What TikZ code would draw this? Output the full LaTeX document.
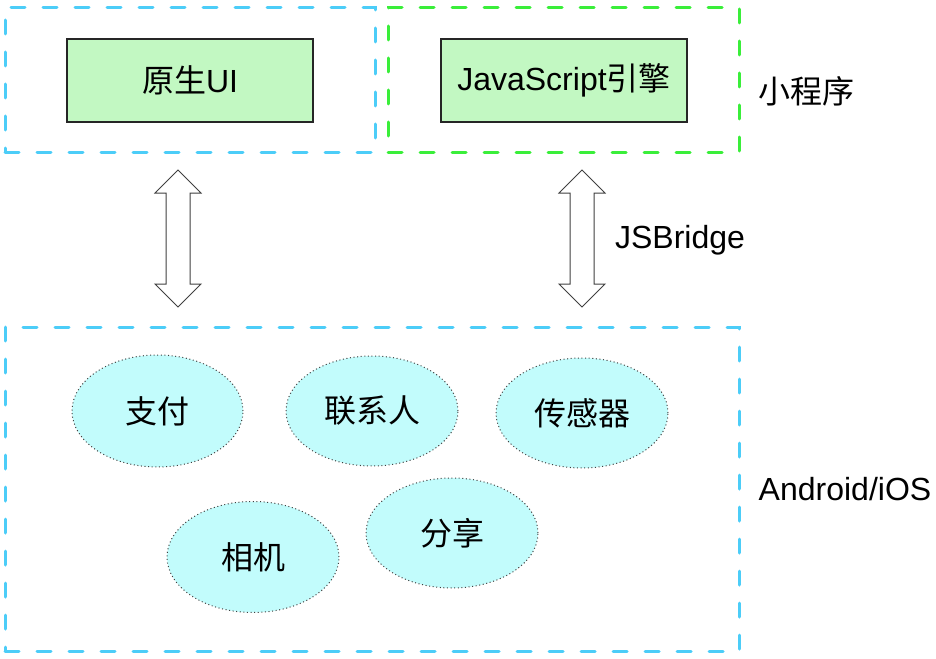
\documentclass[tikz,border=0pt]{standalone}
\usepackage{fontspec}
\setmainfont{Liberation Sans}
\newfontfamily\cjk{Noto Sans CJK SC}
\usetikzlibrary{shapes.geometric,calc}
\definecolor{dashblue}{RGB}{76,205,248}
\definecolor{dashgreen}{RGB}{58,238,58}
\definecolor{boxgreen}{RGB}{194,248,194}
\definecolor{ellcyan}{RGB}{194,252,252}
\tikzset{
  bigfont/.style={font=\fontsize{32}{38}\selectfont},
  dashframe/.style={draw=#1, line width=3pt, dash pattern=on 14pt off 18pt, line cap=round, rectangle, inner sep=0pt},
  greenbox/.style={draw=black!85, line width=1.4pt, fill=boxgreen, rectangle, minimum width=246pt, minimum height=83pt, inner sep=0pt, bigfont},
  ell/.style={ellipse, draw=black!75, line width=1pt, dash pattern=on 1pt off 2.6pt, fill=ellcyan, inner sep=0pt, minimum width=172pt, minimum height=111pt, bigfont},
  blockarrow/.style={draw=black!75, line width=1pt, fill=white},
  label/.style={bigfont, inner sep=0pt}
}
\newcommand\dblarrow[2]{%
  \draw[blockarrow] (#1) -- ($(#1)+(23,23)$) -- ($(#1)+(12,23)$) -- ($(#2)+(12,-23)$) -- ($(#2)+(23,-23)$) -- (#2)
   -- ($(#2)+(-23,-23)$) -- ($(#2)+(-12,-23)$) -- ($(#1)+(-12,23)$) -- ($(#1)+(-23,23)$) -- cycle;}
\begin{document}
\begin{tikzpicture}[x=1pt,y=-1pt]
\useasboundingbox (0,0) rectangle (936,658);
% frames
\node[dashframe=dashblue, minimum width=370pt, minimum height=144pt] (nativeframe) at (190,80) {};
\node[dashframe=dashgreen, minimum width=351pt, minimum height=144pt] (jsframe) at (563.5,80) {};
\node[dashframe=dashblue, minimum width=734pt, minimum height=324pt] (osframe) at (372,489) {};
% top boxes
\node[greenbox] (native) at (190,80.5) {{\cjk 原生}UI};
\node[greenbox] (jsengine) at (564,80.5) {JavaScript{\cjk 引擎}};
\node[label] (mp) at (806,91) {\cjk 小程序};
% arrows
\coordinate (la1) at (178,170);
\coordinate (la2) at (178,307);
\coordinate (ra1) at (582,170);
\coordinate (ra2) at (582,307);
\dblarrow{la1}{la2}
\dblarrow{ra1}{ra2}
\node[label] (jsb) at (680,240) {JSBridge};
% ellipses
\node[ell, minimum width=171pt, minimum height=112pt] (pay) at (157.5,411) {\cjk 支付};
\node[ell, minimum height=110pt] (contact) at (372,411) {\cjk 联系人};
\node[ell, minimum height=110pt] (sensor) at (582,413) {\cjk 传感器};
\node[ell] (camera) at (253,557) {\cjk 相机};
\node[ell, minimum height=110pt] (share) at (452,533) {\cjk 分享};
\node[label] (os) at (845,489) {Android/iOS};
\end{tikzpicture}
\end{document}
